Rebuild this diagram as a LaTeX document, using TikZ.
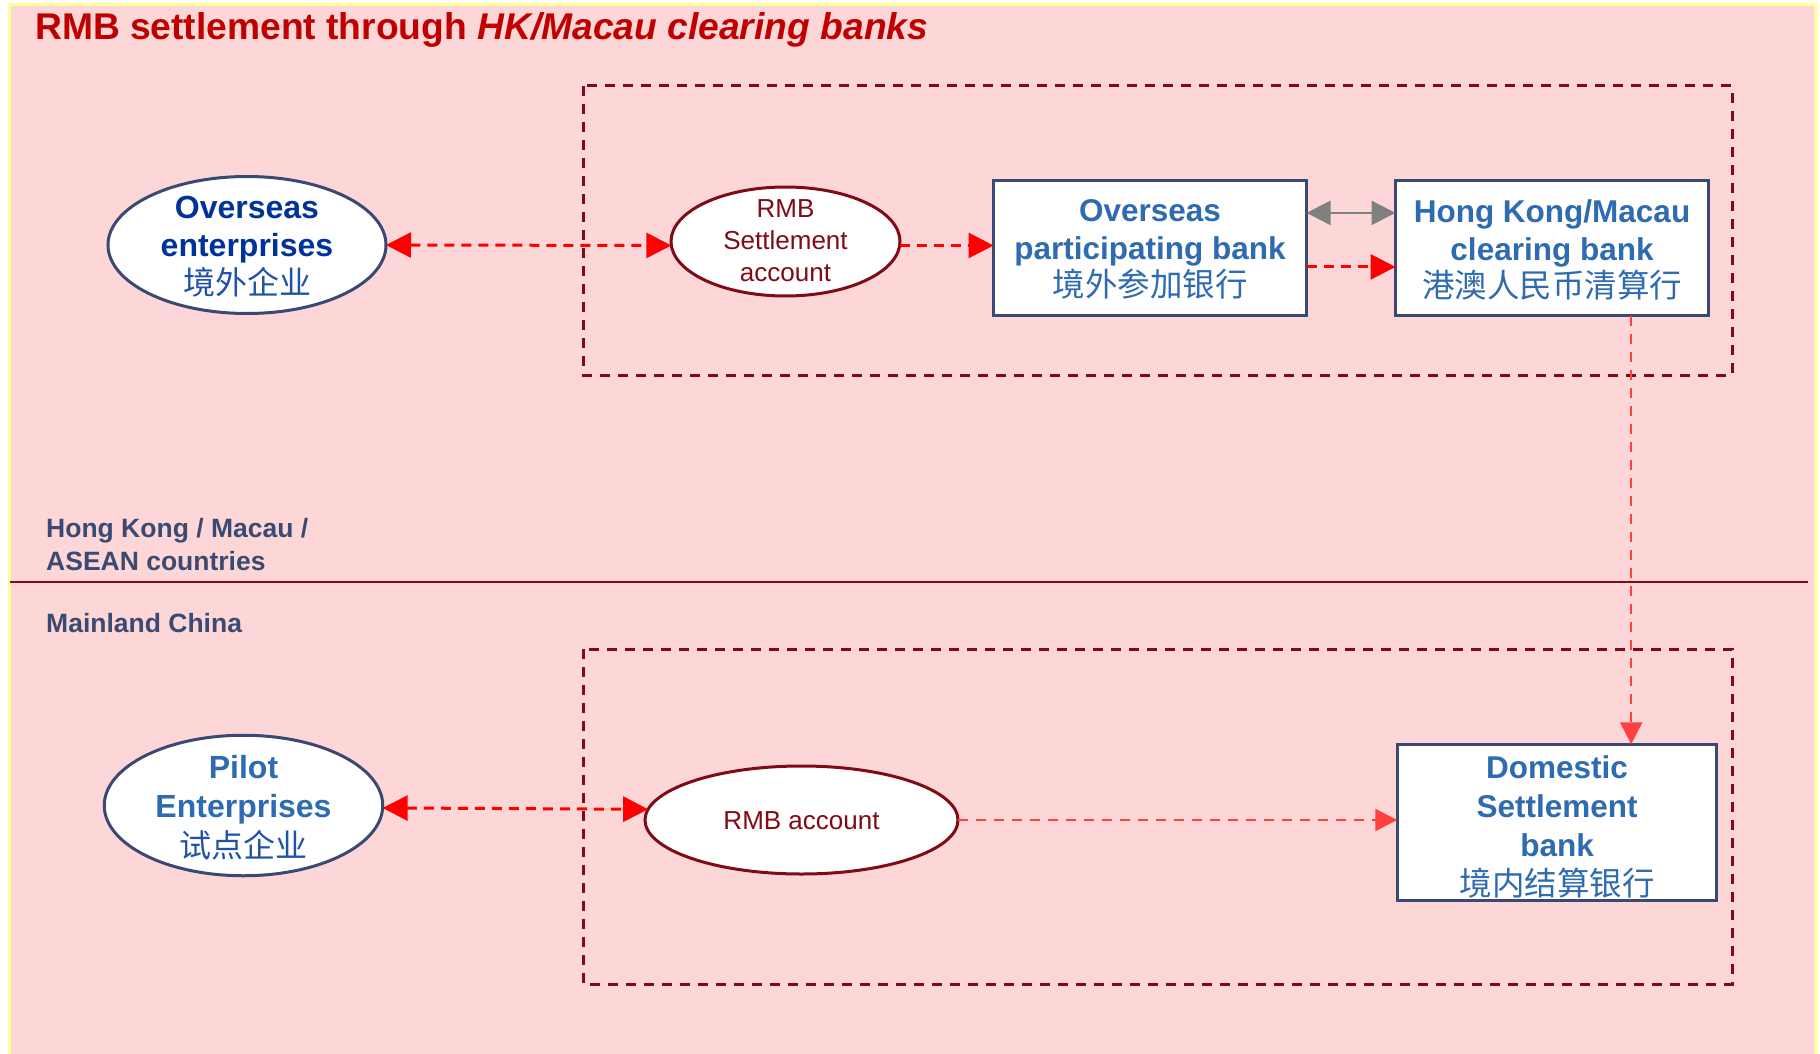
\documentclass[tikz,border=0pt]{standalone}
\usepackage{fontspec}
\setmainfont{Liberation Sans}
\newfontfamily\cjk{Noto Sans CJK SC}
\usetikzlibrary{arrows.meta,shapes.geometric,calc}

\definecolor{bgpink}{RGB}{253,215,215}
\definecolor{edgeyellow}{RGB}{255,255,153}
\definecolor{darkred}{RGB}{128,10,22}
\definecolor{titlered}{RGB}{192,0,0}
\definecolor{navyline}{RGB}{58,72,115}
\definecolor{navytext}{RGB}{0,51,153}
\definecolor{bluetext}{RGB}{46,107,176}
\definecolor{cjkblue}{RGB}{32,82,170}
\definecolor{slate}{RGB}{58,74,114}
\definecolor{flowred}{RGB}{255,0,0}
\definecolor{lightred}{RGB}{255,64,64}
\definecolor{linkgray}{RGB}{128,128,128}

\newcommand\setsize[2]{\fontsize{#1}{#2}\selectfont}

\begin{document}
\begin{tikzpicture}[x=1pt,y=-1pt,
  party/.style={ellipse, draw=navyline, line width=3pt, fill=white, inner sep=0pt, outer sep=0pt},
  account/.style={ellipse, draw=darkred, line width=3pt, fill=white, inner sep=0pt, outer sep=0pt},
  bank/.style={rectangle, draw=navyline, line width=3pt, fill=white, inner sep=0pt, outer sep=0pt},
  txt/.style={anchor=north, inner sep=0pt, outer sep=0pt, align=center},
  zonelabel/.style={anchor=base west, inner sep=0pt, text=slate, font=\bfseries\setsize{26.5}{33}},
  zone/.style={draw=darkred, line width=3pt, dash pattern=on 10pt off 8pt},
  redflow/.style={draw=flowred, line width=3pt, dash pattern=on 10pt off 7pt, >={Triangle[length=25pt,width=25pt]}},
  thinflow/.style={draw=lightred, line width=2.3pt, dash pattern=on 10pt off 8pt, >={Triangle[length=22pt,width=22pt]}},
  grayflow/.style={draw=linkgray, line width=2.5pt, >={Triangle[length=24pt,width=24pt]}}
]
% page and panel
\fill[white] (0,0) rectangle (1820,1054);
\useasboundingbox (0,0) rectangle (1820,1054);
\fill[bgpink] (9,3) rectangle (1815,1054);
\draw[edgeyellow, line width=3pt] (9.5,1054) -- (9.5,4.5) -- (1815,4.5) -- (1815,1054);

% title
\node[anchor=base west, inner sep=0pt, text=titlered, font=\bfseries\setsize{37.2}{44}] (title) at (35,40)
  {RMB settlement through \textit{HK/Macau clearing banks}};

% border between the two regions
\draw[darkred, line width=2.5pt] (10,582) -- (1808,582);
\node[zonelabel] (zone-hk) at (46,537) {Hong Kong / Macau /};
\node[zonelabel] (zone-asean) at (46,570) {ASEAN countries};
\node[zonelabel] (zone-cn) at (46,632) {Mainland China};

% dashed frames around the banking side
\draw[zone] (583,86) rectangle (1732,375);
\draw[zone] (583,649) rectangle (1732,984);

% offshore side
\node[party, minimum width=278pt, minimum height=137pt] (oe) at (247,245) {};
\node[txt, text=navytext, font=\bfseries\setsize{32}{38}] (oe-t) at (247,196)
  {Overseas\\enterprises\\{\cjk\mdseries\color{cjkblue}境外企业}};

\node[account, minimum width=229pt, minimum height=109pt] (rsa) at (785.5,241.5) {};
\node[txt, text=darkred, font=\setsize{26}{32}] (rsa-t) at (785.5,200) {RMB\\Settlement\\account};

\node[bank, minimum width=313pt, minimum height=135pt] (opb) at (1150,248) {};
\node[txt, text=bluetext, font=\bfseries\setsize{31.5}{37.5}] (opb-t) at (1150,200)
  {Overseas\\participating bank\\{\cjk\mdseries\setsize{32.5}{37.5}境外参加银行}};

\node[bank, minimum width=313pt, minimum height=135pt] (hk) at (1552,248) {};
\node[txt, text=bluetext, font=\bfseries\setsize{31.5}{37.5}] (hk-t) at (1552,200)
  {Hong Kong/Macau\\clearing bank\\{\cjk\mdseries\setsize{32.5}{37.5}港澳人民币清算行}};

% mainland side
\node[party, minimum width=278.5pt, minimum height=140.5pt] (pe) at (243.5,805.5) {};
\node[txt, text=bluetext, font=\bfseries\setsize{32}{39.5}] (pe-t) at (243.5,755)
  {Pilot\\Enterprises\\{\cjk\mdseries\color{cjkblue}试点企业}};

\node[account, minimum width=313pt, minimum height=108pt] (rmba) at (801.5,820) {};
\node[txt, text=darkred, font=\setsize{26}{32}] (rmba-t) at (801.5,812) {RMB account};

\node[bank, minimum width=319.5pt, minimum height=156.5pt] (dsb) at (1557,822.5) {};
\node[txt, text=bluetext, font=\bfseries\setsize{31.5}{39}] (dsb-t) at (1557,756)
  {Domestic\\Settlement\\bank\\{\cjk\mdseries\setsize{32.5}{39}境内结算银行}};

% flows
\coordinate (rsa-out) at (rsa.-2);
\coordinate (opb-a) at ($(opb.north east)!0.24!(opb.south east)$);
\coordinate (opb-b) at ($(opb.north east)!0.64!(opb.south east)$);
\coordinate (hk-out) at ($(hk.south west)!0.753!(hk.south east)$);

\draw[redflow, <->] (oe.east) -- (rsa.182);
\draw[redflow, ->] (rsa-out) -- (rsa-out -| opb.west);
\draw[grayflow, <->] (opb-a) -- (opb-a -| hk.west);
\draw[redflow, ->] (opb-b) -- (opb-b -| hk.west);
\draw[thinflow, ->] (hk-out) -- (hk-out |- dsb.north);
\draw[redflow, <->] (pe.-1.5) -- (rmba.176);
\draw[thinflow, ->] (rmba.east) -- (rmba.east -| dsb.west);
\end{tikzpicture}
\end{document}
